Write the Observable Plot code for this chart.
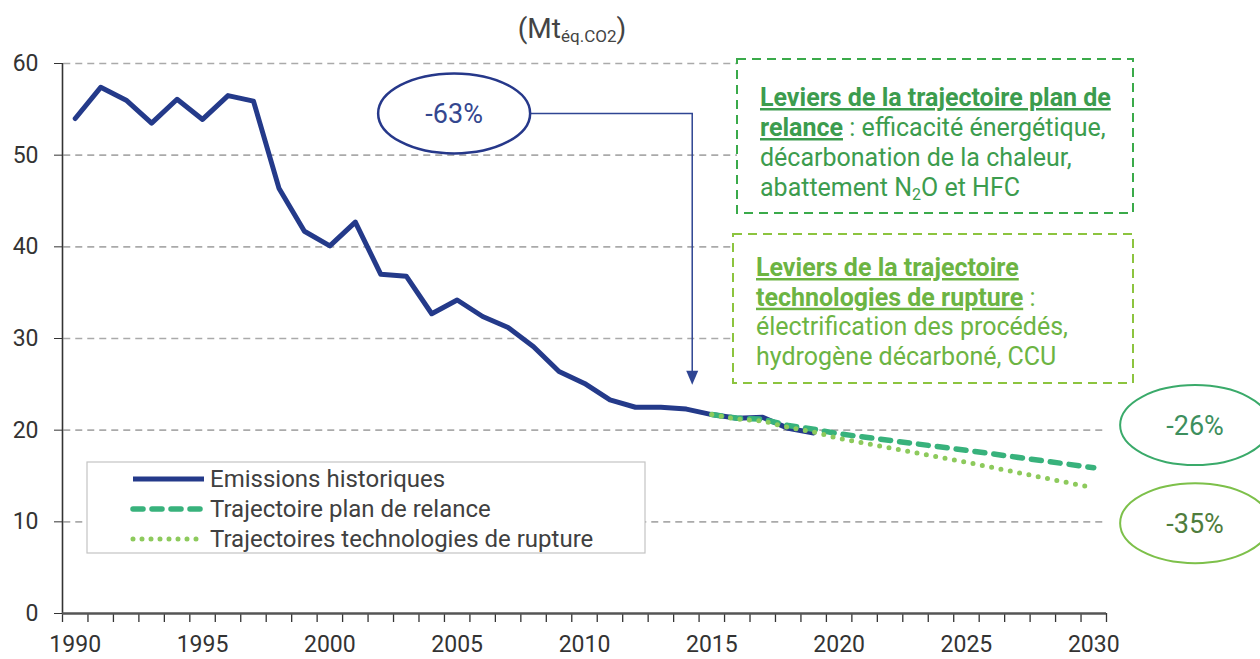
<!DOCTYPE html>
<html><head><meta charset="utf-8">
<script src="https://cdn.jsdelivr.net/npm/d3@7"></script>
<script src="https://cdn.jsdelivr.net/npm/@observablehq/plot@0.6"></script>
<style>body{margin:0;background:#fff} svg{display:block}</style>
</head><body><div id="chart"></div>
<script>
// ---- data ----
const histYears  = [1990,1991,1992,1993,1994,1995,1996,1997,1998,1999,2000,2001,2002,2003,2004,2005,2006,2007,2008,2009,2010,2011,2012,2013,2014,2015,2016,2017,2018,2019];
const histValues = [54.0,57.4,56.0,53.5,56.1,53.9,56.5,55.9,46.4,41.7,40.1,42.7,37.0,36.8,32.7,34.2,32.4,31.2,29.1,26.4,25.1,23.3,22.5,22.5,22.3,21.7,21.3,21.4,20.2,19.7];
const relanceYears  = [2015,2016,2017,2018,2019,2020,2025,2030];
const relanceValues = [21.7,21.3,21.2,20.5,20.1,19.6,17.8,15.9];
const ruptureYears  = [2015,2016,2017,2018,2019,2020,2025,2030];
const ruptureValues = [21.7,21.2,21.0,20.3,19.8,19.1,16.5,13.7];
const yTicks = [0,10,20,30,40,50,60];
const xTickLabels = [1990,1995,2000,2005,2010,2015,2020,2025,2030];
const seriesNames = ["Emissions historiques","Trajectoire plan de relance","Trajectoires technologies de rupture"];
const reductionLabels = ["-63%","-26%","-35%"];

const hist = histYears.map((y,i)=>({year:y, value:histValues[i]}));
const relance = relanceYears.map((y,i)=>({year:y, value:relanceValues[i]}));
const rupture = ruptureYears.map((y,i)=>({year:y, value:ruptureValues[i]}));
const boundaries = d3.range(1989.5, 2031, 1);

const FONT = "Roboto, 'Open Sans', sans-serif";
const BLUE = "#243a8a", GREEN1 = "#38b27c", GREEN2 = "#8dca5c";

const plot = Plot.plot({
  width: 1260, height: 659,
  marginLeft: 62, marginRight: 154, marginTop: 63, marginBottom: 46,
  style: {fontFamily: FONT, fontSize: "23px", color: "#333", background: "white"},
  x: {domain: [1989.5, 2030.5], label: null},
  y: {domain: [0, 60], label: null},
  marks: [
    Plot.ruleY(yTicks.filter(d => d > 0), {x1: 1989.55, x2: 2030.45, stroke: "#aaa", strokeWidth: 1.6, strokeDasharray: "7,5"}),
    Plot.axisY({ticks: yTicks, tickSize: 8, tickPadding: 16, fontSize: 23, stroke: "#333", fill: "#333", label: null}),
    Plot.ruleX([1989.5], {y1: 0, y2: 60, stroke: "#333", strokeWidth: 1.6}),
    Plot.axisX({ticks: boundaries, tickSize: 9, tickFormat: () => "", stroke: "#333", strokeWidth: 1.3, label: null}),
    Plot.axisX({ticks: xTickLabels, tickSize: 0, tickPadding: 22, tickFormat: d => String(d), fontSize: 23, fill: "#333", label: null}),
    Plot.ruleY([0], {x1: 1989.5, x2: 2030.5, stroke: "#555", strokeWidth: 2.5}),
    Plot.line(hist, {x: "year", y: "value", stroke: BLUE, strokeWidth: 5, strokeLinejoin: "round", className: "hist-line"}),
    Plot.line(relance, {x: "year", y: "value", stroke: GREEN1, strokeWidth: 5.5, strokeDasharray: "10,9", strokeLinecap: "round", className: "relance-line"}),
    Plot.line(rupture, {x: "year", y: "value", stroke: GREEN2, strokeWidth: 5, strokeDasharray: "0,9.5", strokeLinecap: "round", className: "rupture-line"})
  ]
});
document.getElementById("chart").appendChild(plot);

const xs = plot.scale("x"), ys = plot.scale("y");
const X = v => xs.apply(v), Y = v => ys.apply(v);
const svg = d3.select(plot);
svg.selectAll(".relance-line path").attr("stroke-linecap", "round").attr("stroke-dasharray", "10,9");
svg.selectAll(".rupture-line path").attr("stroke-linecap", "round").attr("stroke-dasharray", "0,9.5");
const g = svg.append("g").attr("font-family", FONT).attr("text-anchor", "start");

// unit title
const t = g.append("text").attr("x", 572).attr("y", 38).attr("text-anchor", "middle")
  .attr("font-size", 28).attr("fill", "#444");
t.append("tspan").text("(Mt");
t.append("tspan").attr("font-size", 17).attr("dy", 4).text("éq.CO2");
t.append("tspan").attr("dy", -4).text(")");

// -63% annotation
const a63 = {year: 2004.9, value: 54.5, arrowYear: 2014.25, tip: 24.9};
const cx = X(a63.year), cy = Y(a63.value);
g.append("path").attr("fill", "none").attr("stroke", "#2f4593").attr("stroke-width", 1.5)
  .attr("d", `M${cx+76},${cy}H${X(a63.arrowYear)}V${Y(a63.tip)-12}`);
g.append("path").attr("fill", "#2f4593")
  .attr("d", `M${X(a63.arrowYear)-6},${Y(a63.tip)-14}L${X(a63.arrowYear)+6},${Y(a63.tip)-14}L${X(a63.arrowYear)},${Y(a63.tip)}Z`);
g.append("ellipse").attr("cx", cx).attr("cy", cy).attr("rx", 76).attr("ry", 40)
  .attr("fill", "white").attr("stroke", "#26388a").attr("stroke-width", 2.5);
g.append("text").attr("x", cx).attr("y", cy + 10).attr("text-anchor", "middle")
  .attr("font-size", 27).attr("fill", "#34478f").text(reductionLabels[0]);

// -26% / -35% ellipses
[[20.5, reductionLabels[1], "#3aaa6a", "#3d8f5e"], [9.8, reductionLabels[2], "#7dc04a", "#4f7d3d"]].forEach(([v, lab, st, tc]) => {
  const ex = X(2034), ey = Y(v);
  g.append("ellipse").attr("cx", ex).attr("cy", ey).attr("rx", 75).attr("ry", 40)
    .attr("fill", "white").attr("stroke", st).attr("stroke-width", 2);
  g.append("text").attr("x", ex).attr("y", ey + 10).attr("text-anchor", "middle")
    .attr("font-size", 27).attr("fill", tc).text(lab);
});

// lever boxes
function box(x0, y0, x1, y1, base, step, stroke, color, lines) {
  g.append("rect").attr("x", x0).attr("y", y0).attr("width", x1 - x0).attr("height", y1 - y0)
    .attr("fill", "white").attr("stroke", stroke).attr("stroke-width", 2).attr("stroke-dasharray", "9,6");
  lines.forEach((parts, i) => {
    const tx = g.append("text").attr("x", x0 + 23).attr("y", y0 + base + i * step)
      .attr("text-anchor", "start").attr("font-size", 25).attr("fill", color);
    parts.forEach(p => {
      const s = tx.append("tspan");
      if (p.b) s.attr("font-weight", "bold").style("text-decoration", "underline");
      if (p.sub) s.attr("font-size", 16).attr("dy", 4);
      if (p.up) s.attr("dy", -4);
      s.text(p.t);
    });
  });
}
box(737, 59, 1133, 213, 47, 30, "#3aaa4a", "#3c9c4e", [
  [{t: "Leviers de la trajectoire plan de", b: true}],
  [{t: "relance", b: true}, {t: " : efficacité énergétique,"}],
  [{t: "décarbonation de la chaleur,"}],
  [{t: "abattement N"}, {t: "2", sub: true}, {t: "O et HFC", up: true}]
]);
box(733, 234, 1133, 383, 42, 29.7, "#8cc43f", "#6cb443", [
  [{t: "Leviers de la trajectoire", b: true}],
  [{t: "technologies de rupture", b: true}, {t: " :"}],
  [{t: "électrification des procédés,"}],
  [{t: "hydrogène décarboné, CCU"}]
]);

// legend
g.append("rect").attr("x", 87).attr("y", 462).attr("width", 558).attr("height", 91)
  .attr("fill", "white").attr("stroke", "#c4c4c4").attr("stroke-width", 1.2);
const legendStyles = [
  {stroke: BLUE, w: 5, dash: null},
  {stroke: GREEN1, w: 5.5, dash: "10,9"},
  {stroke: GREEN2, w: 5, dash: "0,9"}
];
seriesNames.forEach((name, i) => {
  const ly = 479 + i * 30;
  const st = legendStyles[i];
  const l = g.append("line").attr("x1", 133).attr("x2", 204).attr("y1", ly).attr("y2", ly)
    .attr("stroke", st.stroke).attr("stroke-width", st.w).attr("stroke-linecap", st.dash ? "round" : "butt");
  if (st.dash) l.attr("stroke-dasharray", st.dash);
  g.append("text").attr("x", 210).attr("y", ly + 8).attr("text-anchor", "start")
    .attr("font-size", 24).attr("fill", "#404040").text(name);
});
</script>
</body></html>
